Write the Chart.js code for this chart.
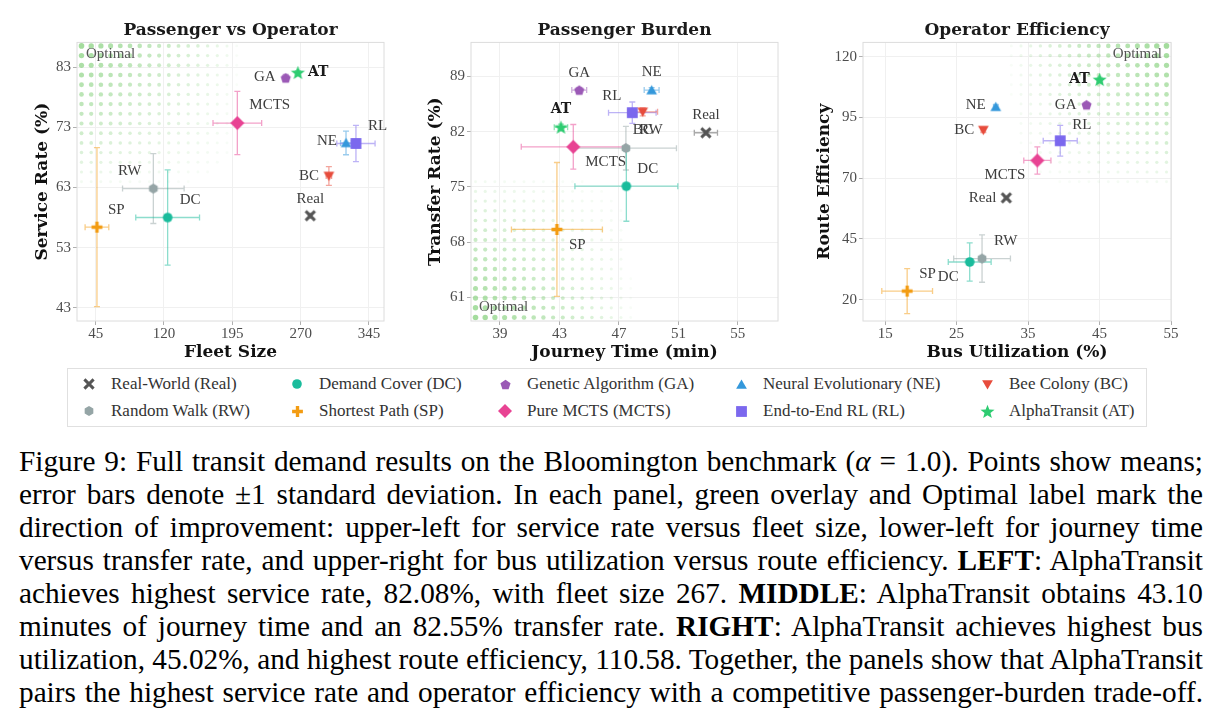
<!DOCTYPE html>
<html>
<head>
<meta charset="utf-8">
<script src="https://cdn.jsdelivr.net/npm/chart.js@4.4.1/dist/chart.umd.min.js"></script>
<style>
  body { margin: 0; width: 1222px; height: 725px; background: #fff; position: relative; overflow: hidden; font-family: "Liberation Serif", serif; }
  .panel { position: absolute; top: 0; }
  #legend { position: absolute; left: 67px; top: 368px; width: 1080px; height: 59px; border: 1px solid #e0e0e0; box-sizing: border-box; font-size: 17px; color: #333; }
  #legend canvas, #legend span { position: absolute; }
  #legend span { white-space: nowrap; line-height: 20px; }
  #caption { position: absolute; left: 19px; top: 445px; width: 1184px; font-size: 27px; color: #000; }
  .cl { height: 33px; line-height: 33px; white-space: nowrap; }
</style>
</head>
<body>
<canvas id="p1" class="panel" width="400" height="365" style="left:0"></canvas>
<canvas id="p2" class="panel" width="400" height="365" style="left:400px"></canvas>
<canvas id="p3" class="panel" width="422" height="365" style="left:800px"></canvas>
<div id="legend"></div>
<div id="caption">
  <div class="cl"><span>Figure 9: Full transit demand results on the Bloomington benchmark (<i>α</i> = 1.0). Points show means;</span></div>
  <div class="cl"><span>error bars denote ±1 standard deviation. In each panel, green overlay and Optimal label mark the</span></div>
  <div class="cl"><span>direction of improvement: upper-left for service rate versus fleet size, lower-left for journey time</span></div>
  <div class="cl"><span>versus transfer rate, and upper-right for bus utilization versus route efficiency. <b>LEFT</b>: AlphaTransit</span></div>
  <div class="cl"><span>achieves highest service rate, 82.08%, with fleet size 267. <b>MIDDLE</b>: AlphaTransit obtains 43.10</span></div>
  <div class="cl"><span>minutes of journey time and an 82.55% transfer rate. <b>RIGHT</b>: AlphaTransit achieves highest bus</span></div>
  <div class="cl"><span>utilization, 45.02%, and highest route efficiency, 110.58. Together, the panels show that AlphaTransit</span></div>
  <div class="cl"><span>pairs the highest service rate and operator efficiency with a competitive passenger-burden trade-off.</span></div>
</div>
<script>
const methods = ['Real', 'RW', 'DC', 'SP', 'GA', 'MCTS', 'NE', 'RL', 'BC', 'AT'];
const methodNames = ['Real-World (Real)', 'Random Walk (RW)', 'Demand Cover (DC)', 'Shortest Path (SP)',
  'Genetic Algorithm (GA)', 'Pure MCTS (MCTS)', 'Neural Evolutionary (NE)', 'End-to-End RL (RL)',
  'Bee Colony (BC)', 'AlphaTransit (AT)'];

// left panel: passenger vs operator
const fleetSize     = [280.6, 108.3, 124.0, 46.4, 253.6, 200.5, 319.8, 330.7, 301.0, 267.0];
const fleetSizeSd   = [2.0, 33.8, 35.0, 13.0, 3.0, 26.7, 6.0, 21.0, 3.0, 1.0];
const serviceRate   = [58.3, 62.8, 58.0, 56.4, 81.2, 73.7, 70.4, 70.3, 64.9, 82.08];
const serviceRateSd = [0.4, 5.8, 7.9, 13.2, 0.6, 5.25, 1.97, 3.0, 1.55, 0.3];

// middle panel: passenger burden
const journeyTime    = [52.85, 47.47, 47.5, 42.83, 44.33, 43.93, 49.2, 47.9, 48.6, 43.1];
const journeyTimeSd  = [0.78, 3.4, 3.46, 3.06, 0.5, 3.5, 0.5, 1.6, 1.0, 0.45];
const transferRate   = [81.85, 79.9, 75.08, 69.6, 87.26, 80.07, 87.26, 84.4, 84.5, 82.55];
const transferRateSd = [0.3, 2.77, 4.44, 8.48, 0.3, 2.83, 0.3, 1.35, 0.5, 0.4];

// right panel: operator efficiency
const busUtil    = [31.96, 28.56, 26.83, 18.08, 43.18, 36.3, 30.48, 39.5, 28.74, 45.02];
const busUtilSd  = [0.3, 3.97, 3.0, 3.55, 0.3, 1.9, 0.3, 2.38, 0.3, 0.3];
const routeEff   = [61.9, 36.9, 35.5, 23.5, 100.2, 77.3, 99.4, 85.4, 89.8, 110.58];
const routeEffSd = [0.5, 9.75, 7.9, 9.3, 0.8, 5.6, 0.8, 6.3, 1.0, 0.5];

const fleetTicks    = [45, 120, 195, 270, 345];
const serviceTicks  = [43, 53, 63, 73, 83];
const journeyTicks  = [39, 43, 47, 51, 55];
const transferTicks = [61, 68, 75, 82, 89];
const utilTicks     = [15, 25, 35, 45, 55];
const effTicks      = [20, 45, 70, 95, 120];

const colors = ['#555555', '#95a5a6', '#1abc9c', '#f39c12', '#9b59b6', '#e84393', '#3498db', '#7b68ee', '#e74c3c', '#2ecc71'];
const shapes = ['x', 'hexagon', 'circle', 'plus', 'pentagon', 'diamond', 'triangle', 'square', 'triangleDown', 'star'];
const shapeSize = { x: 4.6, hexagon: 5, circle: 4.8, plus: 5.4, pentagon: 5.3, diamond: 7, triangle: 6.2, square: 5.4, triangleDown: 6.2, star: 7.4 };

function makeMarker(shape, color, r) {
  const c = document.createElement('canvas');
  const size = Math.ceil(2 * r + 4);
  c.width = size; c.height = size;
  const g = c.getContext('2d');
  const m = size / 2;
  g.fillStyle = color; g.strokeStyle = color;
  const poly = (n, rad, rot, dy) => {
    g.beginPath();
    for (let k = 0; k < n; k++) {
      const a = rot + k * 2 * Math.PI / n;
      const px = m + rad * Math.cos(a), py = m + (dy || 0) + rad * Math.sin(a);
      if (k) g.lineTo(px, py); else g.moveTo(px, py);
    }
    g.closePath(); g.fill();
  };
  switch (shape) {
    case 'x':
      g.lineWidth = r * 0.65;
      g.beginPath();
      g.moveTo(m - r, m - r); g.lineTo(m + r, m + r);
      g.moveTo(m + r, m - r); g.lineTo(m - r, m + r);
      g.stroke(); break;
    case 'plus':
      g.lineWidth = r * 0.62;
      g.beginPath();
      g.moveTo(m - r, m); g.lineTo(m + r, m);
      g.moveTo(m, m - r); g.lineTo(m, m + r);
      g.stroke(); break;
    case 'circle':
      g.beginPath(); g.arc(m, m, r, 0, 2 * Math.PI); g.fill(); break;
    case 'hexagon': poly(6, r, -Math.PI / 2); break;
    case 'pentagon': poly(5, r, -Math.PI / 2, 0.5); break;
    case 'diamond': poly(4, r, -Math.PI / 2); break;
    case 'triangle': poly(3, r, -Math.PI / 2, r * 0.2); break;
    case 'triangleDown': poly(3, r, Math.PI / 2, -r * 0.2); break;
    case 'square': g.fillRect(m - r, m - r, 2 * r, 2 * r); break;
    case 'star': {
      g.beginPath();
      for (let k = 0; k < 10; k++) {
        const a = -Math.PI / 2 + k * Math.PI / 5;
        const rad = k % 2 ? r * 0.42 : r;
        const px = m + rad * Math.cos(a), py = m + 0.6 + rad * Math.sin(a);
        if (k) g.lineTo(px, py); else g.moveTo(px, py);
      }
      g.closePath(); g.fill(); break;
    }
  }
  return c;
}

function rgba(hex, a) {
  const n = parseInt(hex.slice(1), 16);
  return `rgba(${n >> 16}, ${(n >> 8) & 255}, ${n & 255}, ${a})`;
}

const markers = methods.map((m, i) => makeMarker(shapes[i], colors[i], shapeSize[shapes[i]]));

// label placement next to each point: [dx, dy, align]
const labelPos = {
  p1: { Real: [0, -17, 'center'], RW: [-12, -18, 'right'], DC: [12, -17, 'left'], SP: [11, -17, 'left'],
        GA: [-10, -1, 'right'], MCTS: [12, -18, 'left'], NE: [-9, -2, 'right'], RL: [12, -17, 'left'],
        BC: [-10, 0, 'right'], AT: [10, 0, 'left'] },
  p2: { Real: [0, -18, 'center'], RW: [25, -18, 'center'], DC: [11, -17, 'left'], SP: [12, 16, 'left'],
        GA: [0, -17, 'center'], MCTS: [12, 15, 'left'], NE: [0, -18, 'center'], RL: [-11, -17, 'right'],
        BC: [0, 18, 'center'], AT: [0, -18, 'center'] },
  p3: { Real: [-10, 0, 'right'], RW: [12, -18, 'left'], DC: [-11, 15, 'right'], SP: [12, -17, 'left'],
        GA: [-10, 0, 'right'], MCTS: [-12, 15, 'right'], NE: [-10, -2, 'right'], RL: [12, -16, 'left'],
        BC: [-9, 0, 'right'], AT: [-10, 0, 'right'] }
};

// dotted green "optimal" corner, fading away from the corner
function drawOptimalZone(g, area, corner) {
  const sp = 9.7, W = area.width * 0.52, H = area.height * 0.52;
  for (let i = 0; i * sp <= W; i++) {
    for (let j = 0; j * sp <= H; j++) {
      const w = (1 - i * sp / W) * (1 - j * sp / H);
      if (w <= 0.02) continue;
      const x = corner.includes('l') ? area.left + 4.5 + i * sp : area.right - 4.5 - i * sp;
      const y = corner.includes('t') ? area.top + 3.5 + j * sp : area.bottom - 3.5 - j * sp;
      g.fillStyle = `rgba(125, 205, 115, ${0.7 * Math.pow(w, 0.7)})`;
      g.beginPath(); g.arc(x, y, 1.4 + 1.4 * w, 0, 2 * Math.PI); g.fill();
    }
  }
}

const tickFont = { family: 'Liberation Serif', size: 15 };
const boldFont = { family: 'DejaVu Serif', weight: 'bold', size: 17, lineHeight: 1.2 };

function makePanel(id, cfg) {
  const decor = {
    id: 'decor',
    beforeDatasetsDraw(chart) {
      const g = chart.ctx, a = chart.chartArea;
      const sx = chart.scales.x, sy = chart.scales.y;
      g.save();
      drawOptimalZone(g, a, cfg.corner);
      g.strokeStyle = '#dcdcdc'; g.lineWidth = 1;
      g.strokeRect(a.left, a.top, a.width, a.height);
      g.lineWidth = 1.3;
      methods.forEach((m, i) => {
        const x = sx.getPixelForValue(cfg.xs[i]), y = sy.getPixelForValue(cfg.ys[i]);
        const x0 = sx.getPixelForValue(cfg.xs[i] - cfg.xsd[i]), x1 = sx.getPixelForValue(cfg.xs[i] + cfg.xsd[i]);
        const y0 = sy.getPixelForValue(cfg.ys[i] - cfg.ysd[i]), y1 = sy.getPixelForValue(cfg.ys[i] + cfg.ysd[i]);
        g.strokeStyle = rgba(colors[i], 0.5);
        g.beginPath();
        g.moveTo(x0, y); g.lineTo(x1, y);
        g.moveTo(x0, y - 3); g.lineTo(x0, y + 3);
        g.moveTo(x1, y - 3); g.lineTo(x1, y + 3);
        g.moveTo(x, y0); g.lineTo(x, y1);
        g.moveTo(x - 3, y0); g.lineTo(x + 3, y0);
        g.moveTo(x - 3, y1); g.lineTo(x + 3, y1);
        g.stroke();
      });
      g.restore();
    },
    afterDatasetsDraw(chart) {
      const g = chart.ctx, a = chart.chartArea;
      const sx = chart.scales.x, sy = chart.scales.y;
      g.save();
      g.textBaseline = 'middle';
      methods.forEach((m, i) => {
        const [dx, dy, align] = labelPos[id][m];
        const x = sx.getPixelForValue(cfg.xs[i]) + dx, y = sy.getPixelForValue(cfg.ys[i]) + dy;
        g.textAlign = align;
        if (m === 'AT') { g.font = 'bold 14px "DejaVu Serif"'; g.fillStyle = '#1a1a1a'; }
        else { g.font = '15px "Liberation Serif"'; g.fillStyle = '#3d3d3d'; }
        g.fillText(m, x, y);
      });
      g.font = '15px "Liberation Serif"'; g.fillStyle = '#555';
      if (cfg.corner === 'tl') { g.textAlign = 'left'; g.fillText('Optimal', a.left + 9, a.top + 12); }
      if (cfg.corner === 'bl') { g.textAlign = 'left'; g.fillText('Optimal', a.left + 8, a.bottom - 14); }
      if (cfg.corner === 'tr') { g.textAlign = 'right'; g.fillText('Optimal', a.right - 9, a.top + 12); }
      g.restore();
    }
  };

  return new Chart(document.getElementById(id), {
    type: 'scatter',
    data: {
      datasets: methods.map((m, i) => ({
        label: methodNames[i],
        data: [{ x: cfg.xs[i], y: cfg.ys[i] }],
        pointStyle: markers[i],
        pointRadius: 6,
        order: methods.length - i
      }))
    },
    options: {
      responsive: false,
      animation: false,
      events: [],
      layout: { padding: { left: 0, right: cfg.padRight, top: 0, bottom: 0 } },
      plugins: {
        legend: { display: false },
        tooltip: { enabled: false },
        title: { display: true, text: cfg.title, fullSize: false, color: '#1a1a1a', font: boldFont, padding: { top: 20, bottom: 2 } }
      },
      scales: {
        x: {
          type: 'linear', min: cfg.xRange[0], max: cfg.xRange[1],
          afterBuildTicks: s => { s.ticks = cfg.xTicks.map(v => ({ value: v })); },
          afterFit: s => { s.height = 44; },
          grid: { color: '#f0f0f0', tickColor: '#b0b0b0', tickLength: 4 },
          border: { display: false },
          ticks: { font: tickFont, color: '#4d4d4d', padding: 0, autoSkip: false, maxRotation: 0 },
          title: { display: true, text: cfg.xTitle, color: '#111', font: boldFont, padding: { top: 0, bottom: 2 } }
        },
        y: {
          type: 'linear', min: cfg.yRange[0], max: cfg.yRange[1],
          afterBuildTicks: s => { s.ticks = cfg.yTicks.map(v => ({ value: v })); },
          afterFit: s => { s.width = cfg.yWidth; },
          grid: { color: '#f0f0f0', tickColor: '#b0b0b0', tickLength: 4 },
          border: { display: false },
          ticks: { font: tickFont, color: '#4d4d4d', padding: 2, autoSkip: false },
          title: { display: true, text: cfg.yTitle, color: '#111', font: boldFont, padding: { top: cfg.yTitlePad, bottom: 0 } }
        }
      }
    },
    plugins: [decor]
  });
}

makePanel('p1', {
  title: 'Passenger vs Operator', xTitle: 'Fleet Size', yTitle: 'Service Rate (%)',
  xs: fleetSize, xsd: fleetSizeSd, ys: serviceRate, ysd: serviceRateSd,
  xTicks: fleetTicks, yTicks: serviceTicks, xRange: [24.5, 361.5], yRange: [40.8, 87.1],
  yWidth: 77, padRight: 16, yTitlePad: 32, corner: 'tl'
});
makePanel('p2', {
  title: 'Passenger Burden', xTitle: 'Journey Time (min)', yTitle: 'Transfer Rate (%)',
  xs: journeyTime, xsd: journeyTimeSd, ys: transferRate, ysd: transferRateSd,
  xTicks: journeyTicks, yTicks: transferTicks, xRange: [37.05, 57.7], yRange: [58.0, 93.3],
  yWidth: 71, padRight: 22, yTitlePad: 25, corner: 'bl'
});
makePanel('p3', {
  title: 'Operator Efficiency', xTitle: 'Bus Utilization (%)', yTitle: 'Route Efficiency',
  xs: busUtil, xsd: busUtilSd, ys: routeEff, ysd: routeEffSd,
  xTicks: utilTicks, yTicks: effTicks, xRange: [11.9, 55.0], yRange: [11.2, 125.9],
  yWidth: 63, padRight: 51, yTitlePad: 14, corner: 'tr'
});

// legend: two rows, five columns
const legend = document.getElementById('legend');
const legendCols = [88, 296, 504, 740, 986];
const legendRows = [383, 410];
methods.forEach((m, i) => {
  const col = Math.floor(i / 2), row = i % 2;
  const mk = makeMarker(shapes[i], colors[i], shapeSize[shapes[i]]);
  mk.style.left = (legendCols[col] - 67 - mk.width / 2) + 'px';
  mk.style.top = (legendRows[row] - 368 - mk.height / 2) + 'px';
  legend.appendChild(mk);
  const t = document.createElement('span');
  t.textContent = methodNames[i];
  t.style.left = (legendCols[col] - 67 + 22) + 'px';
  t.style.top = (legendRows[row] - 368 - 10) + 'px';
  legend.appendChild(t);
});

// caption: fit font so the full last line spans the text width, then justify each line
const captionWidth = 1184;
const lines = Array.from(document.querySelectorAll('#caption .cl span'));
const caption = document.getElementById('caption');
const natural8 = lines[7].getBoundingClientRect().width;
let fs = 27 * captionWidth / natural8;
caption.style.fontSize = fs + 'px';
const widest = Math.max(...lines.map(s => s.getBoundingClientRect().width));
if (widest > captionWidth) { fs = fs * captionWidth / widest; caption.style.fontSize = fs + 'px'; }
lines.forEach(s => {
  const w = s.getBoundingClientRect().width;
  const n = (s.textContent.match(/ /g) || []).length;
  s.style.wordSpacing = ((captionWidth - w) / n) + 'px';
});
</script>
</body>
</html>
